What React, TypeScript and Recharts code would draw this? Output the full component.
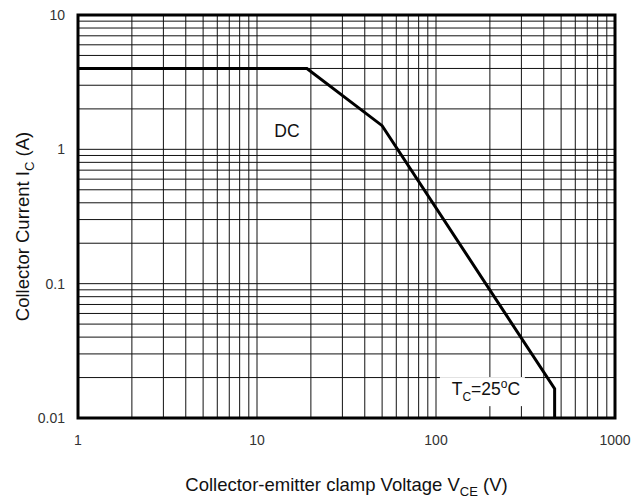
import React from "react";
import {
  CartesianGrid,
  Line,
  LineChart,
  ReferenceArea,
  ReferenceDot,
  XAxis,
  YAxis,
} from "recharts";

// safe operating area
const vce = [1, 19, 50, 460, 460];
const ic = [4, 4, 1.5, 0.0165, 0.01];

const xTicks = [1, 10, 100, 1000];
const yTicks = [0.01, 0.1, 1, 10];

const vceDecades = [1, 10, 100];
const icDecades = [0.01, 0.1, 1];
const minorSteps = [1, 2, 3, 4, 5, 6, 7, 8, 9];

const xGrid = vceDecades.flatMap((d) => minorSteps.map((k) => d * k)).concat([1000]);
const yGrid = icDecades.flatMap((d) => minorSteps.map((k) => +(d * k).toPrecision(3))).concat([10]);

const data = vce.map((v, i) => ({ vce: v, ic: ic[i] }));

const FONT = "'Liberation Sans', Arial, sans-serif";
const tickStyle = { fontSize: 14, fill: "#333", fontFamily: FONT };

function fmt(v: number) {
  return String(v);
}

function YTitle(props: any) {
  const vb = props.viewBox || { x: 0, y: 0, width: 0, height: 0 };
  const cx = 29;
  const cy = vb.y + vb.height / 2 + 10;
  return (
    <text
      x={cx}
      y={cy}
      transform={`rotate(-90 ${cx} ${cy})`}
      textAnchor="middle"
      fontSize={18.5}
      fontFamily={FONT}
      fill="#111"
    >
      Collector Current I
      <tspan fontSize={13} dy={5}>C</tspan>
      <tspan dy={-5}> (A)</tspan>
    </text>
  );
}

function XTitle(props: any) {
  const vb = props.viewBox || { x: 0, y: 0, width: 0, height: 0 };
  const cx = vb.x + vb.width / 2;
  return (
    <text x={cx} y={491} textAnchor="middle" fontSize={18.5} fontFamily={FONT} fill="#111">
      Collector-emitter clamp Voltage V
      <tspan fontSize={13} dy={5}>CE</tspan>
      <tspan dy={-5}> (V)</tspan>
    </text>
  );
}

function DcLabel(props: any) {
  return (
    <text x={props.cx} y={props.cy} textAnchor="middle" fontSize={17.5} fontFamily={FONT} fill="#111">
      DC
    </text>
  );
}

function TempLabel(props: any) {
  const { cx, cy } = props;
  return (
    <g>
      <rect x={cx - 46} y={cy - 18} width={85} height={29} fill="#fff" />
      <text x={cx} y={cy} textAnchor="middle" fontSize={17.5} fontFamily={FONT} fill="#111">
        T
        <tspan fontSize={12} dy={6}>C</tspan>
        <tspan dy={-6}>=25</tspan>
        <tspan fontSize={12} dy={-7}>o</tspan>
        <tspan dy={7}>C</tspan>
      </text>
    </g>
  );
}

export default function App() {
  return (
    <div style={{ position: "absolute", left: 0, top: 0, width: 634, height: 502, background: "#fff" }}>
      <LineChart width={634} height={502} data={data} margin={{ top: 15, right: 19, bottom: 0, left: 0 }}>
        <CartesianGrid
          stroke="#111"
          strokeWidth={1}
          horizontalValues={yGrid}
          verticalValues={xGrid}
        />
        <XAxis
          dataKey="vce"
          type="number"
          scale="log"
          domain={[1, 1000]}
          ticks={xTicks}
          tickFormatter={fmt}
          allowDataOverflow
          axisLine={false}
          tickLine={false}
          tickSize={6}
          tickMargin={11}
          height={84}
          tick={tickStyle}
          interval={0}
          label={<XTitle />}
        />
        <YAxis
          dataKey="ic"
          type="number"
          scale="log"
          domain={[0.01, 10]}
          ticks={yTicks}
          tickFormatter={fmt}
          allowDataOverflow
          axisLine={false}
          tickLine={false}
          tickSize={6}
          tickMargin={7}
          width={78}
          tick={tickStyle}
          interval={0}
          label={<YTitle />}
        />
        <ReferenceArea
          x1={1}
          x2={1000}
          y1={0.01}
          y2={10}
          fill="none"
          fillOpacity={0}
          stroke="#000"
          strokeWidth={3}
          strokeOpacity={1}
        />
        <ReferenceDot x={14.7} y={1.24} r={0} shape={<DcLabel />} />
        <ReferenceDot x={190} y={0.0148} r={0} shape={<TempLabel />} />
        <Line
          dataKey="ic"
          type="linear"
          stroke="#000"
          strokeWidth={3}
          dot={false}
          isAnimationActive={false}
        />
      </LineChart>
    </div>
  );
}
